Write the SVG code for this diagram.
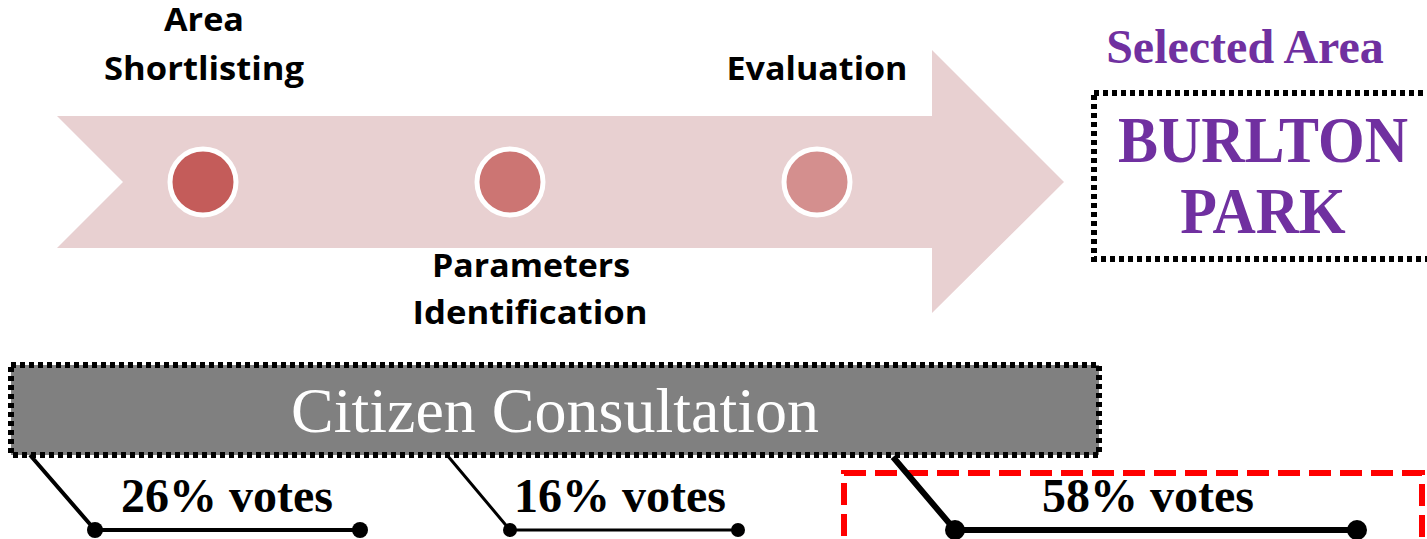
<svg xmlns="http://www.w3.org/2000/svg" width="1427" height="539" viewBox="0 0 1427 539">
<style>
.step{font-family:"Open Sans","Liberation Sans",sans-serif;font-weight:bold;font-size:32px;fill:#000}
.votes{font-family:"Liberation Serif","Times New Roman",serif;font-weight:bold;font-size:48px;fill:#000;text-anchor:middle}
.purple{font-family:"Liberation Serif","Times New Roman",serif;font-weight:bold;fill:#7030A0;text-anchor:middle}
.dotbox{fill:none;stroke:#000;stroke-width:6;stroke-dasharray:5 4}
.milestone{stroke:#fff;stroke-width:5}
</style>
<rect width="1427" height="539" fill="#fff"/>
<g id="process-arrow">
<polygon points="57,116 932,116 932,50 1064,182 932,313 932,248 57,248 123,182" fill="#E8D0D1"/>
</g>
<g id="area-shortlisting">
<circle class="milestone" cx="203" cy="182" r="33" fill="#C45C5A"/>
<text class="step" x="204" y="31" text-anchor="middle" textLength="80" lengthAdjust="spacingAndGlyphs">Area</text>
<text class="step" x="204" y="80" text-anchor="middle" textLength="200" lengthAdjust="spacingAndGlyphs">Shortlisting</text>
</g>
<g id="parameters-identification">
<circle class="milestone" cx="510" cy="182" r="33" fill="#CC7573"/>
<text class="step" x="531" y="277" text-anchor="middle" textLength="198" lengthAdjust="spacingAndGlyphs">Parameters</text>
<text class="step" x="530" y="324" text-anchor="middle" textLength="235" lengthAdjust="spacingAndGlyphs">Identification</text>
</g>
<g id="evaluation">
<circle class="milestone" cx="817" cy="182" r="33" fill="#D48F8E"/>
<text class="step" x="817" y="80" text-anchor="middle" textLength="181" lengthAdjust="spacingAndGlyphs">Evaluation</text>
</g>
<g id="selected-area">
<text class="purple" x="1245" y="63" font-size="48">Selected Area</text>
<rect class="dotbox" x="1094" y="93" width="400" height="166"/>
<text class="purple" font-size="60" transform="translate(1263,162) scale(1,1.1)">BURLTON</text>
<text class="purple" font-size="60" transform="translate(1263,233) scale(1,1.1)">PARK</text>
</g>
<g id="citizen-consultation">
<rect x="11" y="365" width="1088" height="90" fill="#808080"/>
<rect class="dotbox" x="11" y="365" width="1088" height="90"/>
<text x="555" y="432" font-family="Liberation Serif, Times New Roman, serif" font-size="64" fill="#fff" text-anchor="middle">Citizen Consultation</text>
</g>
<g id="vote-highlight">
<rect x="844" y="473" width="578" height="120" fill="none" stroke="#FF0000" stroke-width="6" stroke-dasharray="22 9"/>
</g>
<g id="connectors" stroke="#000" fill="none" stroke-linejoin="round">
<polyline points="30,455 95,530 360,530" stroke-width="4"/>
<polyline points="447,455 510,530 738,530" stroke-width="3"/>
<polyline points="893,457 955,530 1357,530" stroke-width="6"/>
<g fill="#000" stroke="none">
<circle cx="95" cy="530" r="8"/>
<circle cx="360" cy="530" r="8"/>
<circle cx="510" cy="530" r="7"/>
<circle cx="738" cy="530" r="7"/>
<circle cx="955" cy="530" r="10"/>
<circle cx="1357" cy="530" r="10"/>
</g>
</g>
<g id="vote-labels">
<text class="votes" x="227" y="512">26% votes</text>
<text class="votes" x="620" y="512">16% votes</text>
<text class="votes" x="1148" y="512">58% votes</text>
</g>
</svg>
